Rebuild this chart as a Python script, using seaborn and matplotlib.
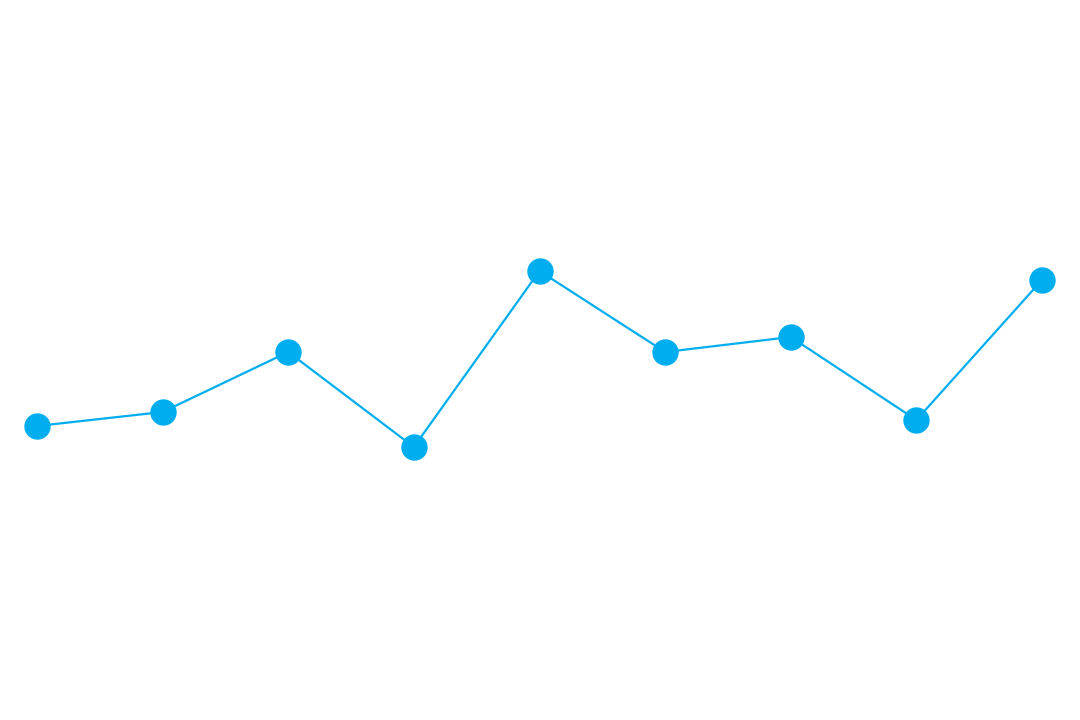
import matplotlib
matplotlib.use("Agg")
import matplotlib.pyplot as plt
import seaborn as sns
import pandas as pd

# data (height above bottom edge, in px of a 720 px canvas)
steps = [1, 2, 3, 4, 5, 6, 7, 8, 9]
values = [294, 308, 368, 273, 449, 368, 383, 300, 440]

df = pd.DataFrame({"step": steps, "value": values})

sns.set_theme(style="white")
fig = plt.figure(figsize=(10.8, 7.2), dpi=100)
# axes spans from first to last point horizontally, whole height vertically
ax = fig.add_axes([37 / 1080, 0, (1042 - 37) / 1080, 1])
ax.patch.set_alpha(0)

sns.lineplot(data=df, x="step", y="value", ax=ax, color="#00AEEF",
             linewidth=1.6, marker="o", markersize=19,
             markeredgewidth=0, clip_on=False)

ax.set_xlim(1, 9)
ax.set_ylim(0, 720)
ax.set_axis_off()

fig.savefig("out.png", dpi=100)
